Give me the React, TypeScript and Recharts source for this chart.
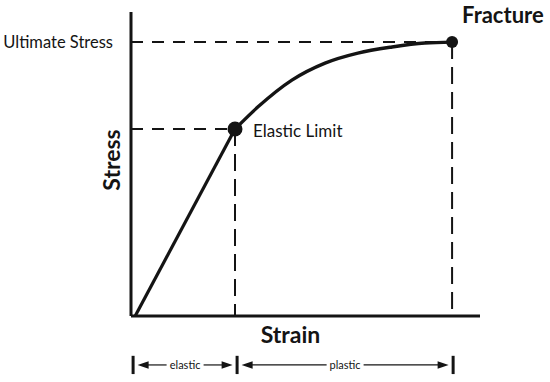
import { ComposedChart, Line, Scatter, XAxis, YAxis, ReferenceLine } from 'recharts';

// strain / stress in arbitrary units (0-100 on both axes)
const elasticStrain = [1.2, 29.8];
const elasticStress = [0, 61.5];

const plasticStrain = [29.8, 36.4, 46.1, 55.6, 65.0, 74.8, 84.2, 92.0];
const plasticStress = [61.5, 68.8, 77.6, 83.2, 86.5, 88.5, 89.8, 90.1];

const pointNames = ['Elastic Limit', 'Fracture'];
const pointStrain = [29.8, 92.0];
const pointStress = [61.5, 90.1];

const stressTicks = [90.1];
const stressTickLabels = ['Ultimate Stress'];

const regionNames = ['elastic', 'plastic'];
const regionEdges = [0.6, 30.4, 92.3];

const INK = '#141414';
const FONT = 'Lato, "Open Sans", sans-serif';
const ARROW_ROW = -16.1; // stress level (below the axis) where the region arrows sit

const elasticData = elasticStrain.map((x, i) => ({ x, y: elasticStress[i] }));
const plasticData = plasticStrain.map((x, i) => ({ x, y: plasticStress[i] }));
const pointData = pointStrain.map((x, i) => ({ x, y: pointStress[i], name: pointNames[i] }));

function DimArrow(props: any) {
  const { x1, x2, y1, text } = props;
  const pad = 4.5;
  const head = 11;
  const half = 3.8;
  const left = x1 + pad;
  const right = x2 - pad;
  const mid = (x1 + x2) / 2;
  const gap = text.length * 2 + 4.5;
  return (
    <g>
      <line x1={left + head - 1} y1={y1} x2={mid - gap} y2={y1} stroke={INK} strokeWidth={1.2} />
      <line x1={mid + gap} y1={y1} x2={right - head + 1} y2={y1} stroke={INK} strokeWidth={1.2} />
      <polygon points={`${left},${y1} ${left + head},${y1 - half} ${left + head},${y1 + half}`} fill={INK} />
      <polygon points={`${right},${y1} ${right - head},${y1 - half} ${right - head},${y1 + half}`} fill={INK} />
      <text x={mid} y={y1 + 4} textAnchor="middle" fontSize={11} fontFamily={FONT} fill={INK}>
        {text}
      </text>
    </g>
  );
}

function PointMark(props: any) {
  const { cx, cy, payload } = props;
  const big = payload.name === 'Elastic Limit';
  return (
    <g>
      <circle cx={cx} cy={cy} r={big ? 7.5 : 6} fill={INK} />
      {big ? (
        <text x={cx + 18} y={cy + 8} fontSize={17} fontFamily={FONT} fill={INK}>
          {payload.name}
        </text>
      ) : (
        <text x={cx + 10} y={cy - 19} fontSize={22} fontWeight={700} fontFamily={FONT} fill={INK}>
          {payload.name}
        </text>
      )}
    </g>
  );
}

function StressTick(props: any) {
  const { x, y, payload } = props;
  const label = stressTickLabels[stressTicks.indexOf(payload.value)] ?? '';
  return (
    <text x={x} y={y + 6} textAnchor="end" fontSize={16.5} fontFamily={FONT} fill={INK}>
      {label}
    </text>
  );
}

export default function App() {
  return (
    <div style={{ position: 'fixed', left: 0, top: 0, width: 550, height: 382, background: '#fff' }}>
      <ComposedChart width={550} height={382} margin={{ top: 12, right: 70, bottom: 65, left: 130 }}>
        <XAxis
          type="number"
          dataKey="x"
          domain={[0, 100]}
          height={1}
          tick={false}
          tickLine={false}
          axisLine={{ stroke: INK, strokeWidth: 3 }}
          label={(p: any) => (
            <text
              x={p.viewBox.x + p.viewBox.width / 2 - 15}
              y={p.viewBox.y + 27}
              textAnchor="middle"
              fontSize={23}
              fontWeight={700}
              fontFamily={FONT}
              fill={INK}
            >
              Strain
            </text>
          )}
        />
        <YAxis
          type="number"
          dataKey="y"
          domain={[0, 100]}
          width={1}
          ticks={stressTicks}
          tickLine={false}
          tickSize={0}
          tickMargin={18}
          tick={StressTick}
          axisLine={{ stroke: INK, strokeWidth: 3 }}
          label={(p: any) => {
            const x = p.viewBox.x + p.viewBox.width - 11;
            const y = p.viewBox.y + p.viewBox.height / 2 - 4;
            return (
              <text
                x={x}
                y={y}
                transform={`rotate(-90, ${x}, ${y})`}
                textAnchor="middle"
                fontSize={23}
                fontWeight={700}
                fontFamily={FONT}
                fill={INK}
              >
                Stress
              </text>
            );
          }}
        />

        {/* guide lines */}
        <ReferenceLine
          segment={[{ x: 0, y: pointStress[1] }, { x: pointStrain[1], y: pointStress[1] }]}
          stroke={INK}
          strokeWidth={2}
          strokeDasharray="12 9"
        />
        <ReferenceLine
          segment={[{ x: pointStrain[1], y: pointStress[1] }, { x: pointStrain[1], y: 0 }]}
          stroke={INK}
          strokeWidth={2}
          strokeDasharray="17 8"
        />
        <ReferenceLine
          segment={[{ x: 0, y: pointStress[0] }, { x: pointStrain[0], y: pointStress[0] }]}
          stroke={INK}
          strokeWidth={2}
          strokeDasharray="12 9"
        />
        <ReferenceLine
          segment={[{ x: pointStrain[0], y: pointStress[0] }, { x: pointStrain[0], y: 0 }]}
          stroke={INK}
          strokeWidth={2}
          strokeDasharray="17 8"
        />

        {/* region arrows under the axis */}
        {regionEdges.map((e) => (
          <ReferenceLine
            key={'bar' + e}
            segment={[{ x: e, y: ARROW_ROW + 3 }, { x: e, y: ARROW_ROW - 3 }]}
            stroke={INK}
            strokeWidth={3}
            ifOverflow="visible"
          />
        ))}
        {regionNames.map((name, i) => (
          <ReferenceLine
            key={name}
            segment={[{ x: regionEdges[i], y: ARROW_ROW }, { x: regionEdges[i + 1], y: ARROW_ROW }]}
            ifOverflow="visible"
            shape={(p: any) => <DimArrow {...p} text={name} />}
          />
        ))}

        <Line
          data={elasticData}
          dataKey="y"
          type="linear"
          stroke={INK}
          strokeWidth={3.2}
          dot={false}
          activeDot={false}
          isAnimationActive={false}
        />
        <Line
          data={plasticData}
          dataKey="y"
          type="monotone"
          stroke={INK}
          strokeWidth={3.4}
          dot={false}
          activeDot={false}
          isAnimationActive={false}
        />
        <Scatter data={pointData} dataKey="y" shape={PointMark} isAnimationActive={false} />
      </ComposedChart>
    </div>
  );
}
